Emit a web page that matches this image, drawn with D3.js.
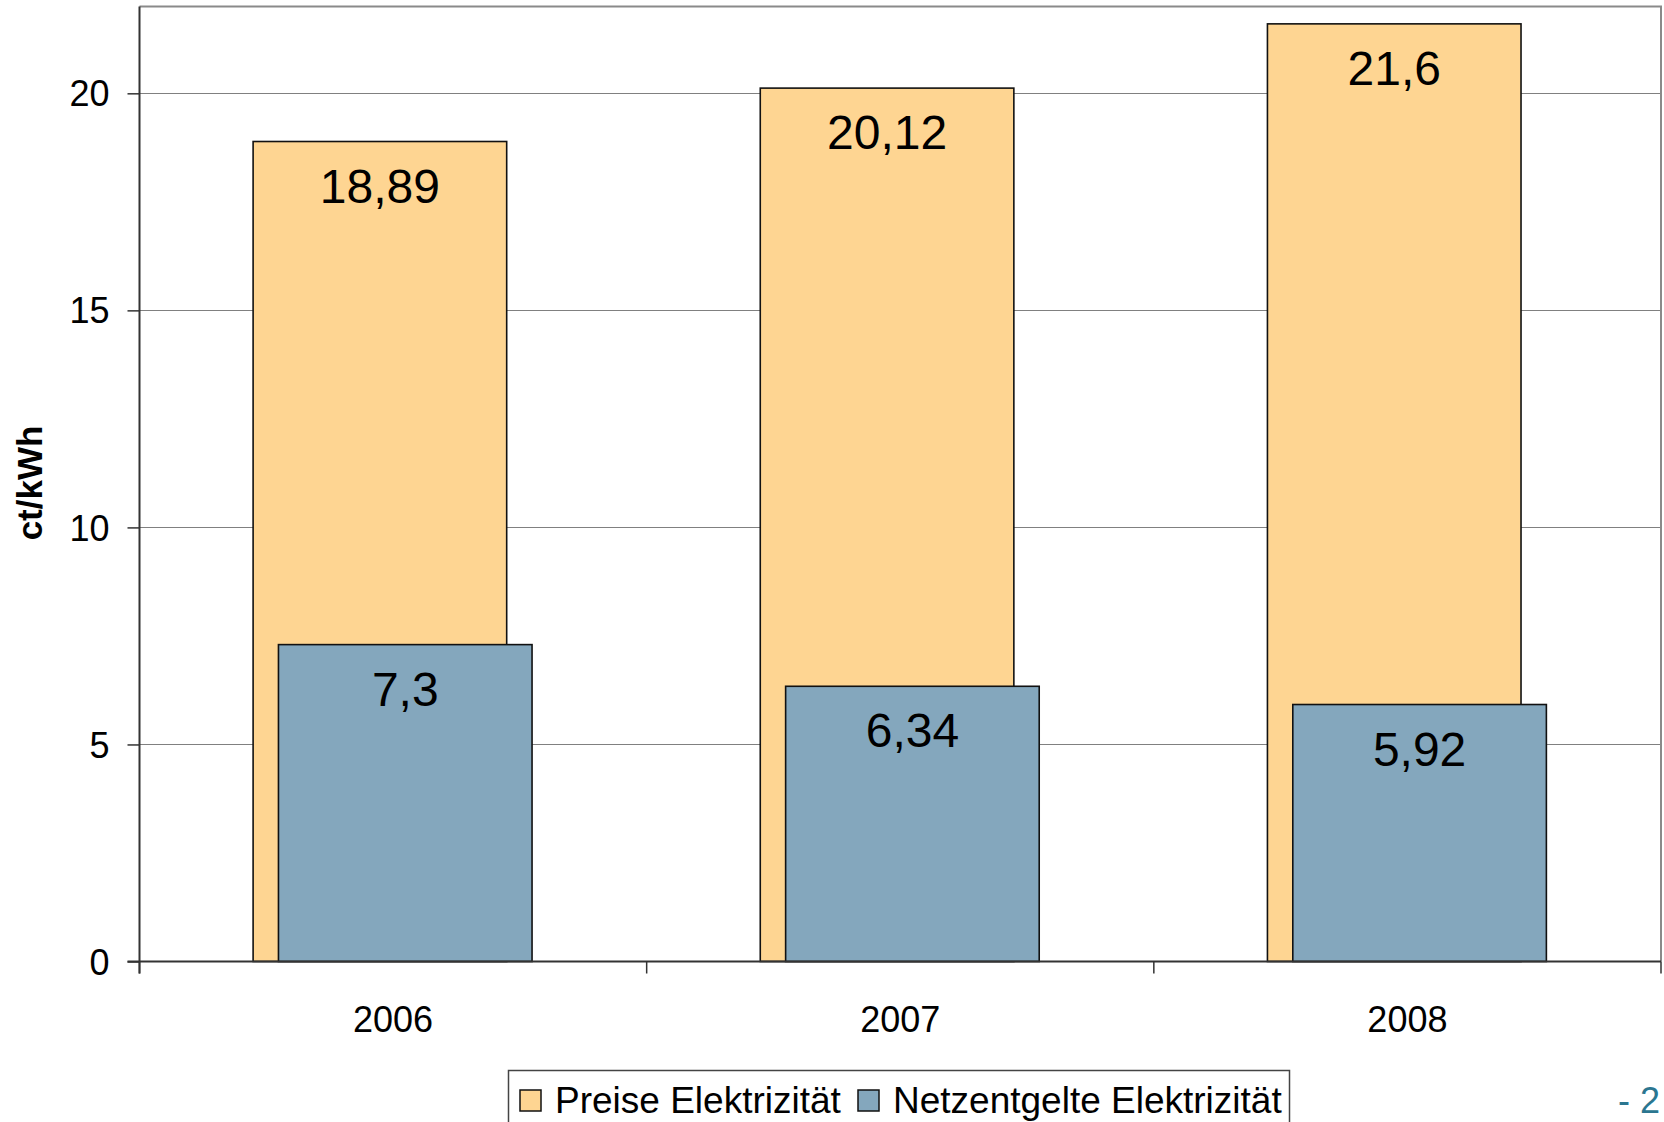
<!DOCTYPE html>
<html>
<head>
<meta charset="utf-8">
<script src="https://cdn.jsdelivr.net/npm/d3@7"></script>
<style>
  html, body { margin: 0; padding: 0; background: #ffffff; }
  svg { display: block; }
  text { font-family: "Liberation Sans", Arial, Helvetica, sans-serif; }
</style>
</head>
<body>
<svg id="chart" width="1664" height="1122"></svg>
<script>
const categories = ["2006", "2007", "2008"];
const seriesNames = ["Preise Elektrizität", "Netzentgelte Elektrizität"];
const preise = [18.89, 20.12, 21.6];
const netzentgelte = [7.3, 6.34, 5.92];
const preiseLabels = ["18,89", "20,12", "21,6"];
const netzLabels = ["7,3", "6,34", "5,92"];
const yTicks = [0, 5, 10, 15, 20];
const yTitle = "ct/kWh";
const pageNumber = "- 2";

(function () {
const colors = ["#FED592", "#84A7BD"];
const series = [
  { name: seriesNames[0], values: preise, labels: preiseLabels, color: colors[0] },
  { name: seriesNames[1], values: netzentgelte, labels: netzLabels, color: colors[1] }
];

const svg = d3.select("#chart");
const pL = 139.5, pR = 1661, pT = 6.5, pB = 961.5;

const x = d3.scaleBand().domain(categories).range([pL, pR]).paddingInner(0).paddingOuter(0);
const y = d3.scaleLinear().domain([0, 22]).range([pB, pT]);

// gridlines
svg.append("g").selectAll("line").data(yTicks.filter(d => d > 0)).join("line")
  .attr("x1", pL).attr("x2", pR)
  .attr("y1", d => Math.round(y(d)) + 0.5).attr("y2", d => Math.round(y(d)) + 0.5)
  .attr("stroke", "#808080").attr("stroke-width", 1);

// plot border top & right
svg.append("path")
  .attr("d", `M${pL},${pT}H${pR}V${pB}`)
  .attr("fill", "none").attr("stroke", "#8a8a8a").attr("stroke-width", 2);

// bars
const bw = x.bandwidth();
const barW = bw * 0.5;
const offsets = [bw * 0.224, bw * 0.274];

series.forEach((s, si) => {
  const g = svg.append("g");
  g.selectAll("rect").data(categories).join("rect")
    .attr("x", (c) => x(c) + offsets[si])
    .attr("y", (c, i) => y(s.values[i]))
    .attr("width", barW)
    .attr("height", (c, i) => y(0) - y(s.values[i]))
    .attr("fill", s.color)
    .attr("stroke", "#111")
    .attr("stroke-width", 1.6);
  g.selectAll("text").data(categories).join("text")
    .attr("x", (c) => x(c) + offsets[si] + barW / 2)
    .attr("y", (c, i) => y(s.values[i]) + 61)
    .attr("text-anchor", "middle")
    .attr("font-size", 48)
    .attr("fill", "#000")
    .text((c, i) => s.labels[i]);
});

// y axis
const yAxis = d3.axisLeft(y).tickValues(yTicks).tickSize(12).tickPadding(18).tickFormat(d3.format("d"));
const ya = svg.append("g").attr("transform", `translate(${pL},0)`).call(yAxis);
ya.select(".domain").attr("stroke", "#333").attr("stroke-width", 2).attr("d", `M0,${pT}V${pB + 12}`);
ya.selectAll(".tick line").attr("stroke", "#333").attr("stroke-width", 1.5);
ya.selectAll(".tick text").attr("font-size", 36).attr("fill", "#000")
  .attr("font-family", "'Liberation Sans', Arial, sans-serif").attr("dy", "0.35em");

// x axis
const xAxis = d3.axisBottom(x).tickSize(0).tickPadding(70);
const xa = svg.append("g").attr("transform", `translate(0,${pB})`).call(xAxis);
xa.select(".domain").attr("stroke", "#333").attr("stroke-width", 2).attr("d", `M${pL - 12},0H${pR}`);
xa.selectAll(".tick text").attr("font-size", 36).attr("fill", "#000")
  .attr("font-family", "'Liberation Sans', Arial, sans-serif").attr("dy", "0");
// category separator ticks
const seps = categories.map(c => x(c)).concat([x(categories[categories.length - 1]) + bw]);
svg.append("g").selectAll("line").data(seps).join("line")
  .attr("x1", d => d).attr("x2", d => d)
  .attr("y1", pB).attr("y2", pB + 12)
  .attr("stroke", "#333").attr("stroke-width", 1.5);

// y title
svg.append("text")
  .attr("transform", `translate(42,483) rotate(-90)`)
  .attr("text-anchor", "middle")
  .attr("font-size", 35).attr("font-weight", "bold").attr("fill", "#000")
  .text(yTitle);

// legend
const leg = svg.append("g");
leg.append("rect").attr("x", 508.5).attr("y", 1070.5).attr("width", 781).attr("height", 70)
  .attr("fill", "#fff").attr("stroke", "#444").attr("stroke-width", 1.5);
const legX = [520, 858];
series.forEach((s, i) => {
  leg.append("rect").attr("x", legX[i]).attr("y", 1090).attr("width", 21).attr("height", 21)
    .attr("fill", s.color).attr("stroke", "#111").attr("stroke-width", 1.5);
  leg.append("text").attr("x", legX[i] + 35).attr("y", 1113)
    .attr("font-size", 37).attr("fill", "#000").text(s.name);
});

// page number
svg.append("text").attr("x", 1660).attr("y", 1113).attr("text-anchor", "end")
  .attr("font-size", 36).attr("fill", "#2B7690").text(pageNumber);
})();
</script>
</body>
</html>
